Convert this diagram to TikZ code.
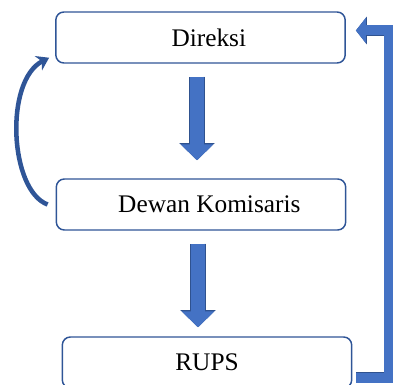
\documentclass[tikz,border=0pt]{standalone}
\usepackage{fontspec}
\setmainfont{Liberation Serif}
\usepackage{tikz}
\usetikzlibrary{positioning}
\usetikzlibrary{calc}
\usetikzlibrary{arrows.meta}

\definecolor{boxline}{HTML}{2F5597}
\definecolor{arrowfill}{HTML}{4472C4}
\definecolor{arrowline}{HTML}{2F528F}

\begin{document}
\begin{tikzpicture}[x=0.75pt, y=-0.75pt
  , organ/.style={ draw=boxline, line width=1.1pt, rounded corners=6pt
                 , minimum width=217pt, minimum height=38.25pt
                 , font=\fontsize{19}{22}\selectfont }
  , textright/.style={ execute at begin node=\hspace{12.5pt} }
  , blockdown/.style={ draw=arrowfill, line width=10.5pt
                     , -{Triangle[length=12pt, width=24pt]}
                     , preaction={ draw=arrowline, line width=11.6pt
                                 , -{Triangle[length=12.8pt, width=25.6pt]} } }
  , backcurve/.style={ draw=boxline, line width=3.4pt
                     , -{Stealth[length=9pt, width=12pt, inset=3pt]} }
  , bentarrow/.style={ draw=arrowfill, line width=7.5pt, line join=miter
                     , -{Triangle[length=7.5pt, width=18.75pt]}
                     , preaction={ draw=arrowline, line width=8.6pt
                                 , -{Triangle[length=8.3pt, width=20.6pt]} } }
  ]

  \useasboundingbox (0,0) rectangle (393,385);
  \clip (0,0) rectangle (393,385);

  \node [organ, textright] (direksi)   at (200.5,37.5) {Direksi};
  \node [organ, textright] (komisaris) at (201,204.5)  {Dewan Komisaris};
  \node [organ]            (rups)      at (207,362.5)  {RUPS};

  % block arrows down the middle
  \draw [blockdown] ($(direksi.south)+(-3.5,13)$) -- ($(komisaris.north)+(-4,-18)$);
  \draw [blockdown] ($(komisaris.south)+(-3,13)$) -- ($(rups.north)+(-9,-9)$);

  % komisaris back up to direksi
  \coordinate (kout) at ($(komisaris.west)+(-8,0)$);
  \coordinate (din)  at ($(direksi.south west)+(-6,-6)$);
  \draw [backcurve] (kout) .. controls +(-38,-14) and +(-45,23) .. (din);

  % rups round the right side to direksi
  \coordinate (rout) at ($(rups.east)+(4,15)$);
  \coordinate (rin)  at ($(direksi.east)+(10,-7)$);
  \draw [bentarrow] (rout) -- ++(33,0) |- (rin);

\end{tikzpicture}
\end{document}
